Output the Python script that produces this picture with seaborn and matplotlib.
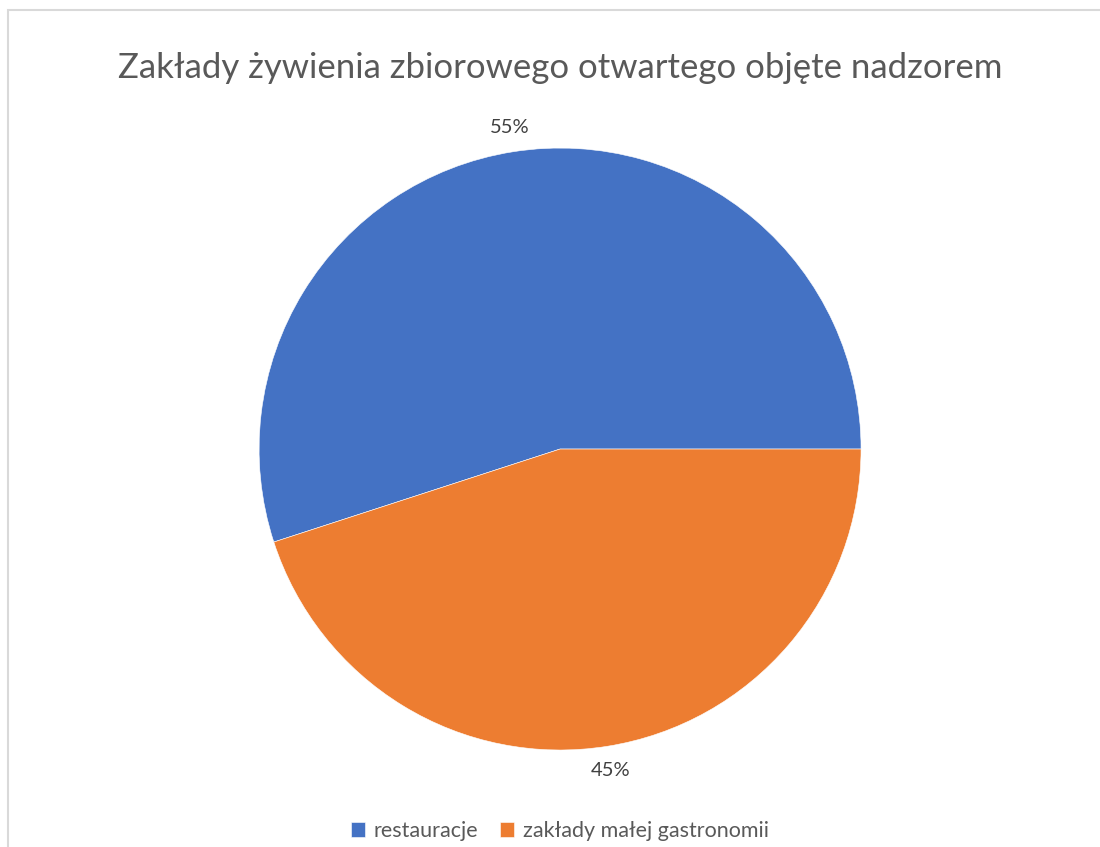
import matplotlib
matplotlib.use("Agg")
import matplotlib.pyplot as plt
import seaborn as sns
from matplotlib.patches import Rectangle

categories = ["restauracje", "zakłady małej gastronomii"]
values = [55, 45]
colors = ["#4472C4", "#ED7D31"]
title = "Zakłady żywienia zbiorowego otwartego objęte nadzorem"

sns.set_theme(style="white")
plt.rcParams["font.family"] = ["Lato", "DejaVu Sans"]

fig = plt.figure(figsize=(11, 8.47), dpi=100)
fig.patch.set_facecolor("white")

# chart area border (top and left visible)
fig.add_artist(Rectangle((8 / 1100, -0.1), 1.2, 1 - 10 / 847 + 0.1,
                         transform=fig.transFigure, fill=False,
                         edgecolor="#D9D9D9", linewidth=1.5))

ax = fig.add_axes([0.2355, 0.1145, 0.5473, 0.7107])
wedges, texts, autotexts = ax.pie(
    values, colors=colors, startangle=0, counterclock=True,
    autopct="%d%%", pctdistance=1.08, radius=1,
    wedgeprops=dict(edgecolor="white", linewidth=0.4),
    textprops=dict(color="#404040", fontsize=14.5),
)
ax.set_xlim(-1, 1)
ax.set_ylim(-1, 1)
ax.set_aspect("equal")
ax.axis("off")

fig.text(0.509, 1 - 68 / 847, title, ha="center", va="center",
         fontsize=25, color="#595959")

leg = fig.legend(wedges, categories, loc="center", bbox_to_anchor=(0.509, 1 - 831 / 847),
                 ncol=2, frameon=False, fontsize=15.5, handlelength=0.65, handleheight=0.65,
                 handletextpad=0.4, columnspacing=1.0, labelcolor="#595959")

fig.savefig("out.png", dpi=100, facecolor="white")
